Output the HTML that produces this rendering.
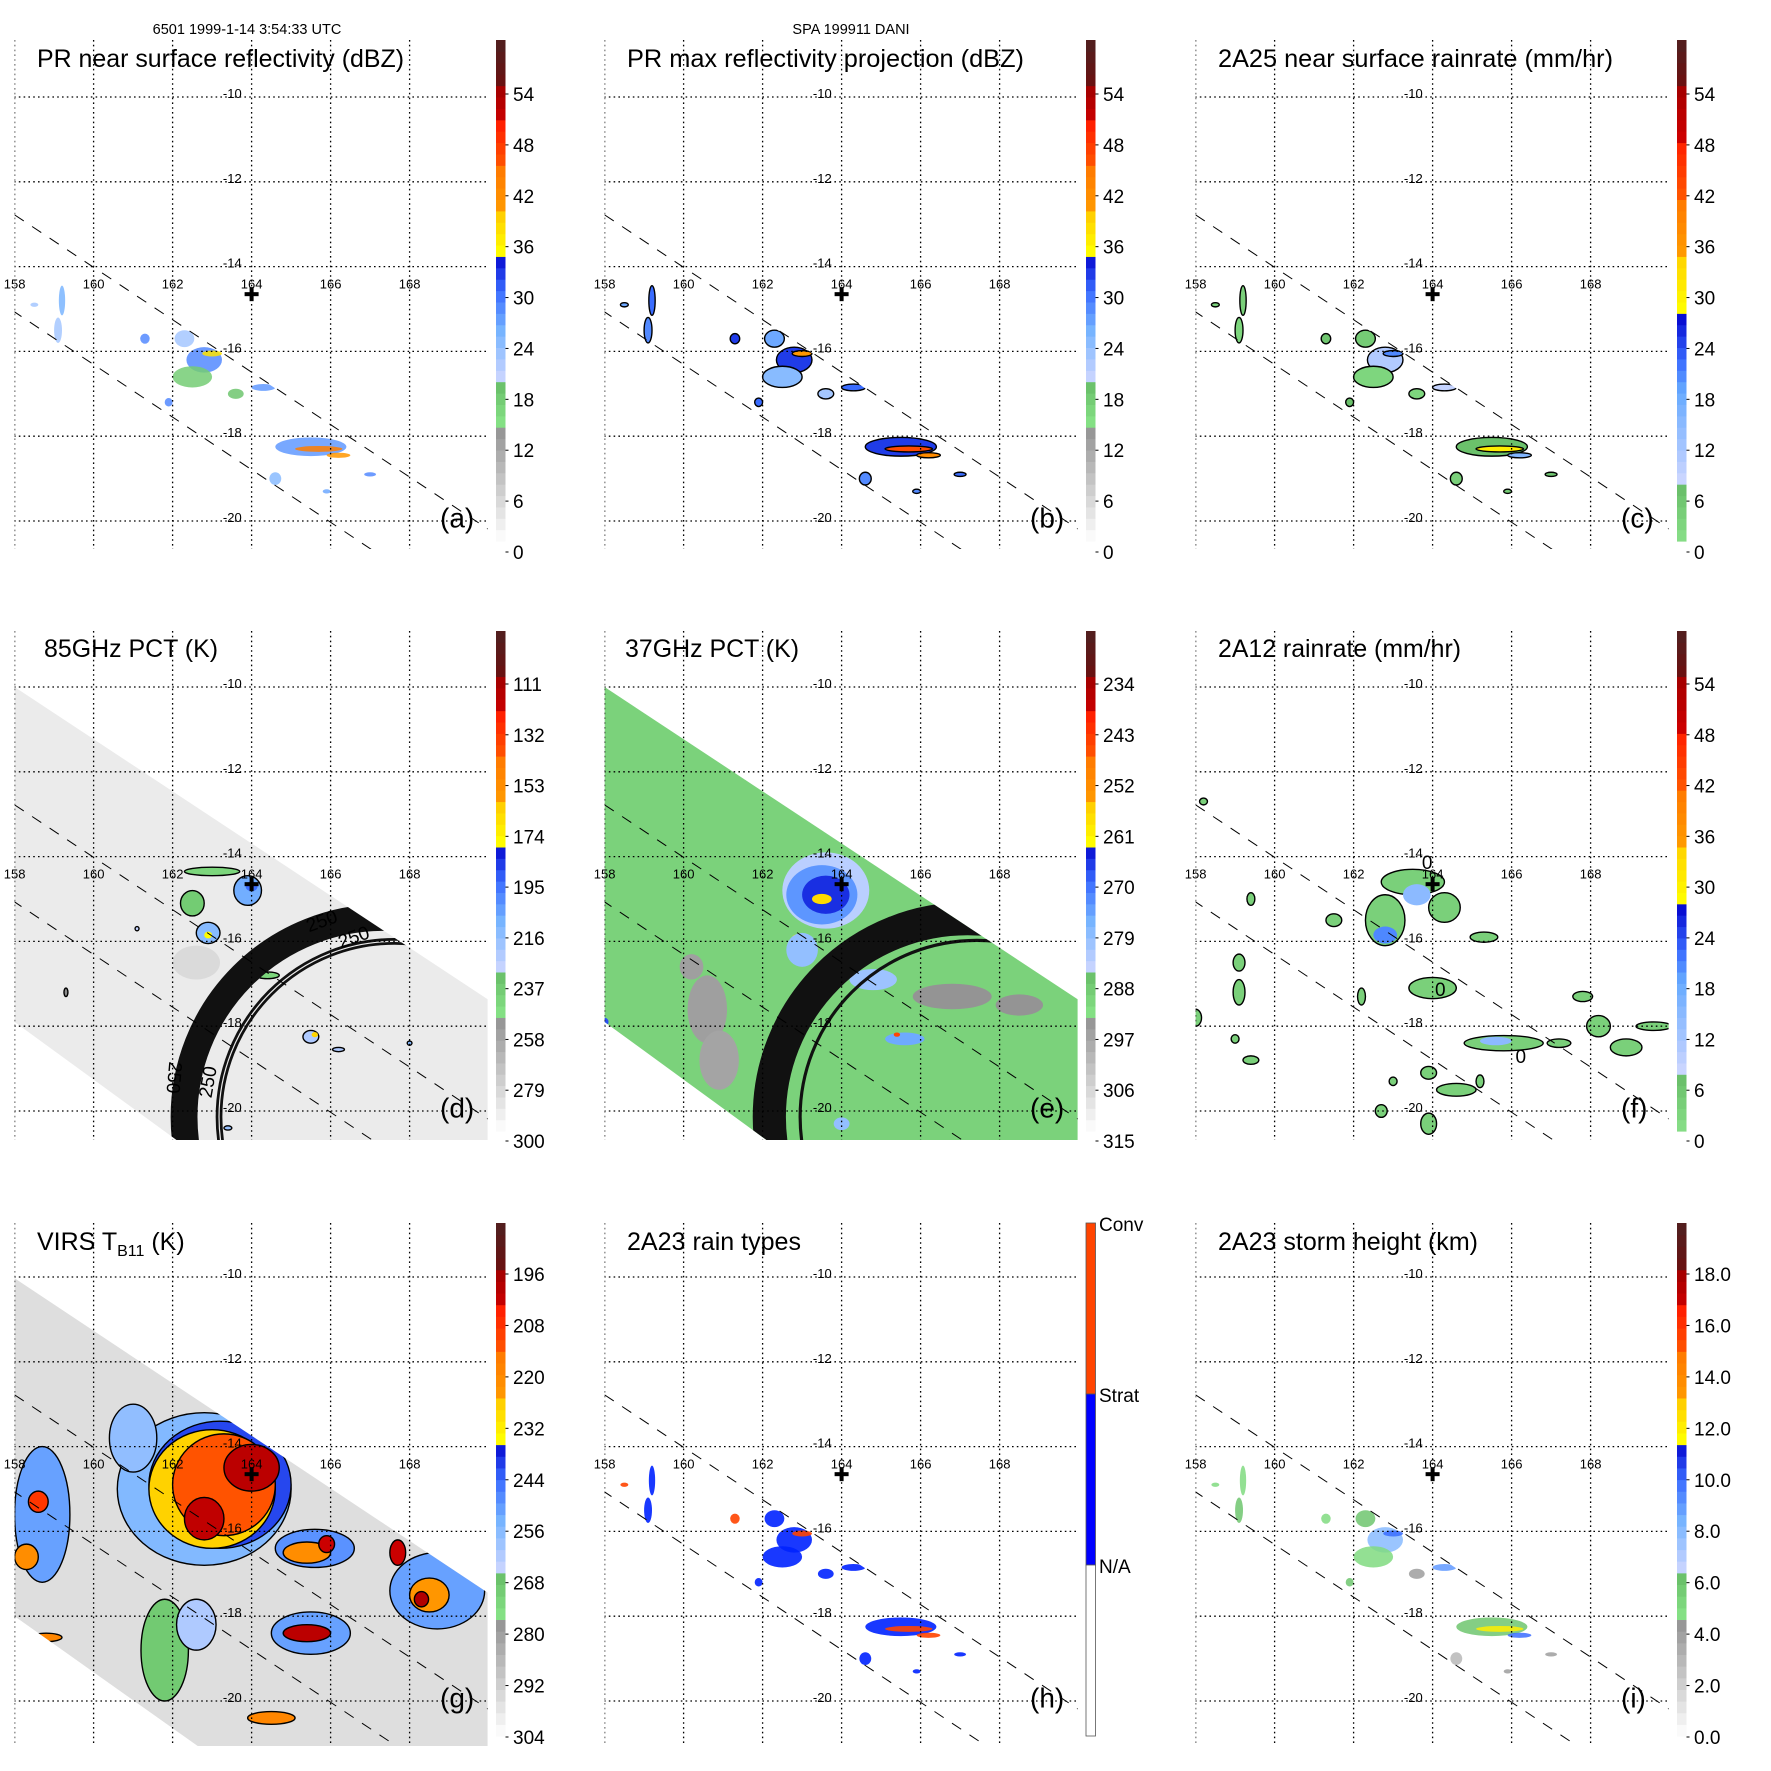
<!DOCTYPE html>
<html><head><meta charset="utf-8"><style>
html,body{margin:0;padding:0;background:#fff;}
svg{display:block;font-family:"Liberation Sans",sans-serif;}
</style></head><body>
<svg id="fig" width="1771" height="1771" viewBox="0 0 1771 1771"></svg>
<script>
const NS='http://www.w3.org/2000/svg';
const svg=document.getElementById('fig');
function mk(parent,tag,attrs){const e=document.createElementNS(NS,tag);for(const k in attrs)e.setAttribute(k,attrs[k]);parent.appendChild(e);return e;}

/* ---------- data ---------- */
const lonTicks=[158,160,162,164,166,168];
const latTicks=[-10,-12,-14,-16,-18,-20];
const centerLon=164, centerLat=-14.65;

/* PR (a,b,c,h,i) precipitation features */
const prLon=[159.2,159.1,162.3,162.8,163.0,162.5,164.3,165.5,165.7,166.2,161.3,163.6,161.9,164.6,165.9,167.0,158.5];
const prLat=[-14.8,-15.5,-15.7,-16.2,-16.05,-16.6,-16.85,-18.25,-18.3,-18.45,-15.7,-17.0,-17.2,-19.0,-19.3,-18.9,-14.9];
const prRx=[0.08,0.1,0.25,0.45,0.25,0.5,0.3,0.9,0.6,0.3,0.12,0.2,0.1,0.15,0.1,0.15,0.1];
const prRy=[0.35,0.3,0.2,0.3,0.07,0.25,0.08,0.22,0.07,0.06,0.12,0.12,0.1,0.15,0.05,0.05,0.05];
const aVal=[25,22,22,28,37,17,27,27,44,40,28,18,28,24,26,28,22];
const bVal=[30,28,26,32,40,24,30,32,46,42,32,22,30,28,28,30,26];
const cVal=[3,2,4,10,20,2,8,6,30,15,5,2,6,3,4,5,3];
const hVal=[1,1,1,1,2,1,1,1,2,2,2,1,1,1,1,1,2];
const iVal=[5,6,6,8,10,5,9,6,12,10,5,4,6,3,4,4,5];

/* 85 GHz PCT */
const dLon=[162.6,163.0,163.9,162.5,162.9,162.9,164.0,164.4,165.5,165.6,166.2,168.0,161.1,159.3,163.4];
const dLat=[-16.5,-14.35,-14.8,-15.1,-15.8,-15.85,-14.7,-16.8,-18.25,-18.2,-18.55,-18.4,-15.7,-17.2,-20.4];
const dRx=[0.6,0.7,0.35,0.3,0.3,0.1,0.15,0.3,0.2,0.08,0.15,0.06,0.05,0.05,0.1];
const dRy=[0.4,0.1,0.35,0.3,0.25,0.08,0.12,0.08,0.15,0.06,0.05,0.05,0.05,0.1,0.05];
const dVal=[284,245,210,240,215,178,195,245,225,165,225,215,230,250,220];
const dLine=[0,1,1,1,1,0,0,1,1,0,1,1,1,1,1];

/* 37 GHz PCT */
const eLon=[160.6,160.9,160.2,166.8,168.5,163.6,163.5,163.6,163.5,162.9,163.0,164.8,165.6,165.4,158.0,164.0];
const eLat=[-17.6,-18.8,-16.6,-17.3,-17.5,-14.8,-14.9,-14.9,-15.0,-15.9,-16.2,-16.9,-18.3,-18.2,-17.9,-20.3];
const eRx=[0.5,0.5,0.3,1.0,0.6,1.1,0.9,0.6,0.25,0.15,0.4,0.6,0.5,0.08,0.1,0.2];
const eRy=[0.8,0.7,0.3,0.3,0.25,0.9,0.7,0.45,0.12,0.07,0.4,0.25,0.15,0.05,0.1,0.15];
const eVal=[297,298,297,295,295,284,274,266,258,258,280,281,276,245,268,280];

/* 2A12 rain rate */
const fLon=[163.5,162.8,164.3,163.6,162.8,164.0,165.3,165.8,165.6,167.2,168.2,168.9,169.6,167.8,159.1,159.1,158.0,159.0,159.4,161.5,163.9,164.6,165.2,163.0,163.9,162.7,162.2,159.4,158.2];
const fLat=[-14.6,-15.5,-15.2,-14.9,-15.85,-17.1,-15.9,-18.4,-18.35,-18.4,-18.0,-18.5,-18.0,-17.3,-16.5,-17.2,-17.8,-18.3,-18.8,-15.5,-19.1,-19.5,-19.3,-19.3,-20.3,-20.0,-17.3,-15.0,-12.7];
const fRx=[0.8,0.5,0.4,0.35,0.3,0.6,0.35,1.0,0.4,0.3,0.3,0.4,0.45,0.25,0.15,0.15,0.15,0.1,0.2,0.2,0.2,0.5,0.1,0.1,0.2,0.15,0.1,0.1,0.1];
const fRy=[0.3,0.6,0.35,0.25,0.2,0.25,0.12,0.18,0.1,0.1,0.25,0.2,0.1,0.12,0.2,0.3,0.2,0.1,0.1,0.15,0.15,0.15,0.15,0.1,0.25,0.15,0.2,0.15,0.08];
const fVal=[3,3,3,14,20,3,3,3,14,3,3,3,3,3,3,3,3,3,3,3,3,3,3,3,3,3,3,3,3];
const fLine=[1,1,1,0,0,1,1,1,0,1,1,1,1,1,1,1,1,1,1,1,1,1,1,1,1,1,1,1,1];

/* VIRS TB11 */
const gLon=[162.8,161.0,161.8,162.6,165.6,168.7,165.5,158.7,163.2,163.0,163.3,164.0,162.8,165.4,165.9,168.5,168.3,167.7,165.4,158.6,158.3,164.5,158.8];
const gLat=[-15.0,-13.8,-18.8,-18.2,-16.4,-17.4,-18.4,-15.6,-14.9,-15.0,-14.9,-14.5,-15.7,-16.5,-16.3,-17.5,-17.6,-16.5,-18.4,-15.3,-16.6,-20.4,-18.5];
const gRx=[2.2,0.6,0.6,0.5,1.0,1.2,1.0,0.7,1.8,1.6,1.3,0.7,0.5,0.6,0.2,0.5,0.18,0.2,0.6,0.25,0.3,0.6,0.4];
const gRy=[1.8,0.8,1.2,0.6,0.45,0.9,0.5,1.6,1.5,1.4,1.2,0.55,0.5,0.25,0.2,0.4,0.18,0.3,0.2,0.25,0.3,0.15,0.1];
const gVal=[256,258,270,262,250,252,252,252,242,228,215,202,203,222,205,225,200,205,202,210,222,220,220];

/* swaths, scan-edge lines, rings */
const prSwath=[[157,-12.16],[172,-21.46],[172,-23.9],[157,-14.6]];
const tmiSwath=[[158,-10],[170,-17.38],[170,-21.5],[163.3,-21.5],[158,-17.9]];
const virsSwath=[[158,-10.03],[170,-17.46],[170,-21.5],[163.3,-21.5],[158,-18.0]];
const scanLines=[[[158,-12.78],[170,-20.2]],[[157.5,-14.76],[168,-21.27]]];
const dRings=[[167.34,-20.14,5.39,0.68],[167.62,-20.14,4.53,0.07],[167.62,-20.14,4.43,0.07]];
const eRings=[[167.19,-20.14,5.44,0.84],[167.42,-20.14,4.51,0.08]];
const dRingLabels=[[165.83,-15.66,-20],[166.64,-16.04,-20],[163.05,-19.34,-80],[161.88,-19.2,95]];
const fZeroLabels=[[163.73,-14.13],[164.06,-17.12],[166.1,-18.7]];

/* colorbar tick labels */
const ticksDBZ=['54','48','42','36','30','24','18','12','6','0'];
const ticks85=['111','132','153','174','195','216','237','258','279','300'];
const ticks37=['234','243','252','261','270','279','288','297','306','315'];
const ticksTB=['196','208','220','232','244','256','268','280','292','304'];
const ticksHT=['18.0','16.0','14.0','12.0','10.0','8.0','6.0','4.0','2.0','0.0'];

/* ---------- palettes ---------- */
const P1=[[0,'#ffffff'],[0.238,'#8c8c8c'],[0.238,'#84e084'],[0.322,'#66bb66'],[0.322,'#ccd6ff'],[0.42,'#77b4ff'],[0.5,'#3a6cff'],[0.575,'#0000cc'],[0.575,'#ffff00'],[0.66,'#ffc800'],[0.66,'#ff9a00'],[0.743,'#ff7a00'],[0.743,'#ff5a00'],[0.83,'#ff2000'],[0.83,'#d00000'],[0.91,'#a00000'],[0.91,'#6a1010'],[1,'#502020']];
const P2=[[0,'#88e088'],[0.119,'#66bb66'],[0.119,'#ccd6ff'],[0.3,'#66aaff'],[0.36,'#3a6cff'],[0.456,'#0000cc'],[0.456,'#ffff00'],[0.575,'#ffd000'],[0.575,'#ff9a00'],[0.678,'#ff7a00'],[0.678,'#ff5a00'],[0.797,'#ff2000'],[0.797,'#d00000'],[0.916,'#a00000'],[0.916,'#6a1010'],[1,'#502020']];
function hx(c){return [parseInt(c.substr(1,2),16),parseInt(c.substr(3,2),16),parseInt(c.substr(5,2),16)];}
function pal(P,t){t=Math.max(0,Math.min(1,t));
  for(let i=0;i<P.length-1;i++){const a=P[i],b=P[i+1];
    if(b[0]>a[0]&&t>=a[0]&&t<=b[0]){const f=(t-a[0])/(b[0]-a[0]);const A=hx(a[1]),B=hx(b[1]);
      return 'rgb('+A.map((v,k)=>Math.round(v+(B[k]-v)*f)).join(',')+')';}}
  return P[P.length-1][1];}

/* ---------- layout ---------- */
const rows=[{lat10:97,pp:42.4,top:40,bot:549,cbTop:40,cbBot:541,lab0:94,lab1:552},
            {lat10:87,pp:42.4,top:31,bot:540,cbTop:31,cbBot:531,lab0:84,lab1:541},
            {lat10:77,pp:42.4,top:23,bot:546,cbTop:23,cbBot:536,lab0:74,lab1:537}];
const colX=[0,590,1181], rowY=[0,600,1200];

const panels=[
 {id:'a',col:0,row:0,title:'PR near surface reflectivity (dBZ)',tl:367,tx:37,P:P1,v0:0,v1:60,lon:prLon,lat:prLat,rx:prRx,ry:prRy,val:aVal,sw:prSwath,op:0.85,ticks:ticksDBZ},
 {id:'b',col:1,row:0,title:'PR max reflectivity projection (dBZ)',tl:397,tx:37,P:P1,v0:0,v1:60,lon:prLon,lat:prLat,rx:prRx,ry:prRy,val:bVal,sw:prSwath,line:1,ticks:ticksDBZ},
 {id:'c',col:2,row:0,title:'2A25 near surface rainrate (mm/hr)',tl:395,tx:37,P:P2,v0:0,v1:60,lon:prLon,lat:prLat,rx:prRx,ry:prRy,val:cVal,sw:prSwath,line:1,ticks:ticksDBZ},
 {id:'d',col:0,row:1,title:'85GHz PCT (K)',tl:174,tx:44,P:P1,v0:300,v1:89,lon:dLon,lat:dLat,rx:dRx,ry:dRy,val:dVal,lines:dLine,sw:tmiSwath,bg:'#ebebeb',rings:dRings,ticks:ticks85},
 {id:'e',col:1,row:1,title:'37GHz PCT (K)',tl:174,tx:35,P:P1,v0:315,v1:224.6,lon:eLon,lat:eLat,rx:eRx,ry:eRy,val:eVal,sw:tmiSwath,bg:'#7bd27b',rings:eRings,ticks:ticks37},
 {id:'f',col:2,row:1,title:'2A12 rainrate (mm/hr)',tl:243,tx:37,P:P2,v0:0,v1:60,lon:fLon,lat:fLat,rx:fRx,ry:fRy,val:fVal,lines:fLine,ticks:ticksDBZ},
 {id:'g',col:0,row:2,title:'VIRS',tl:146,tx:37,P:P1,v0:304,v1:186,lon:gLon,lat:gLat,rx:gRx,ry:gRy,val:gVal,sw:virsSwath,bg:'#dedede',line:1,ticks:ticksTB},
 {id:'h',col:1,row:2,title:'2A23 rain types',tl:174,tx:37,cat:true,lon:prLon,lat:prLat,rx:prRx,ry:prRy,val:hVal,sw:prSwath,op:0.9},
 {id:'i',col:2,row:2,title:'2A23 storm height (km)',tl:260,tx:37,P:P1,v0:0,v1:20,lon:prLon,lat:prLat,rx:prRx,ry:prRy,val:iVal,sw:prSwath,op:0.85,ticks:ticksHT}
];

const defs=mk(svg,'defs',{});

/* header */
let ht=mk(svg,'text',{x:247,y:34,'font-size':14.5,'text-anchor':'middle',fill:'#000'});


ht.textContent='6501 1999-1-14 3:54:33 UTC';
let ht2=mk(svg,'text',{x:851,y:34,'font-size':14.5,'text-anchor':'middle',fill:'#000'});


ht2.textContent='SPA 199911 DANI';

panels.forEach(p=>{
  const r=rows[p.row], ox=colX[p.col], oy=rowY[p.row];
  const X=lon=>ox+14.6+(lon-158)*39.5;
  const Y=lat=>oy+r.lat10+(-10-lat)*r.pp;
  const T=v=>(v-p.v0)/(p.v1-p.v0);
  const color=v=>p.cat?(v===2?'#ff4400':'#0022ff'):pal(p.P,T(v));

  const g=mk(svg,'g',{});
  
  

  const cp=mk(defs,'clipPath',{id:'clip-'+p.id});
  mk(cp,'rect',{x:ox+14.6,y:oy+r.top,width:473,height:r.bot-r.top});
  const plot=mk(g,'g',{'clip-path':'url(#clip-'+p.id+')'});
  
  

  let inner=plot;
  if(p.sw){
    const pts=p.sw.map(q=>X(q[0])+','+Y(q[1])).join(' ');
    const sc=mk(defs,'clipPath',{id:'sw-'+p.id});
    mk(sc,'polygon',{points:pts});
    if(p.bg){
      const bg=mk(plot,'polygon',{points:pts,fill:p.bg});
      
      
    }
    inner=mk(plot,'g',{'clip-path':'url(#sw-'+p.id+')'});
    
    
  }
  for(let i=0;i<p.lon.length;i++){
    const el=mk(inner,'ellipse',{cx:X(p.lon[i]),cy:Y(p.lat[i]),rx:p.rx[i]*39.5,ry:p.ry[i]*r.pp,fill:color(p.val[i])});
    if(p.op)el.setAttribute('fill-opacity',p.op);
    const ol=p.lines?p.lines[i]:p.line;
    if(ol){el.setAttribute('stroke','#000');el.setAttribute('stroke-width','1.4');}
    
    
  }
  if(p.rings){
    p.rings.forEach(q=>{
      const c=mk(inner,'circle',{cx:X(q[0]),cy:Y(q[1]),r:(q[2]-q[3]/2)*39.5,fill:'none',stroke:'#111','stroke-width':Math.max(2,q[3]*39.5)});
      
      
    });
  }
  if(p.id==='d'){
    dRingLabels.forEach(q=>{
      const t=mk(inner,'text',{x:X(q[0]),y:Y(q[1]),'font-size':19,'text-anchor':'middle',fill:'#000',transform:'rotate('+q[2]+' '+X(q[0])+' '+Y(q[1])+')'});
      
      
      t.textContent='250';
    });
  }
  /* grid */
  lonTicks.forEach(lon=>{
    const l=mk(plot,'line',{x1:X(lon),x2:X(lon),y1:oy+r.top,y2:oy+r.bot,stroke:'#000','stroke-width':1.3,'stroke-dasharray':'1.6 3.2'});
    
    
  });
  latTicks.forEach(lat=>{
    const l=mk(plot,'line',{x1:ox+14,x2:ox+487,y1:Y(lat),y2:Y(lat),stroke:'#000','stroke-width':1.3,'stroke-dasharray':'1.6 3.2'});
    
    
  });
  scanLines.forEach(s=>{
    const l=mk(plot,'line',{x1:X(s[0][0]),y1:Y(s[0][1]),x2:X(s[1][0]),y2:Y(s[1][1]),stroke:'#000','stroke-width':1,'stroke-dasharray':'11 10'});
    
    
  });
  /* storm center marker */
  const cx=X(centerLon), cy=Y(centerLat);
  const m1=mk(g,'rect',{x:cx-7,y:cy-2,width:14,height:4,fill:'#000'});
  
  
  const m2=mk(g,'rect',{x:cx-2,y:cy-7,width:4,height:14,fill:'#000'});
  
  
  if(p.id==='f'){
    fZeroLabels.forEach(q=>{
      const t=mk(g,'text',{x:X(q[0]),y:Y(q[1])+7,'font-size':19,fill:'#000'});
      
      
      t.textContent='0';
    });
  }
  /* tick labels */
  lonTicks.forEach(lon=>{
    const t=mk(g,'text',{x:X(lon),y:Y(-14.4)+5,'font-size':13,'text-anchor':'middle',fill:'#000'});
    
    
    t.textContent=String(lon);
  });
  latTicks.forEach(lat=>{
    const t=mk(g,'text',{x:X(163.75),y:Y(lat)+1,'font-size':13,'text-anchor':'end',fill:'#000'});
    
    
    t.textContent=String(lat);
  });
  /* title */
  const titleY=[67,57,50][p.row];
  const tt=mk(g,'text',{x:ox+p.tx,y:oy+titleY,'font-size':25,fill:'#000',textLength:p.tl,lengthAdjust:'spacingAndGlyphs'});
  
  
  if(p.id==='g'){
    tt.removeAttribute('textLength');
    tt.textContent='VIRS T';
    const sub=mk(tt,'tspan',{'font-size':16,dy:6});
    sub.textContent='B11';
    const rest=mk(tt,'tspan',{dy:-6});
    rest.textContent=' (K)';
  } else tt.textContent=p.title;
  /* panel letter */
  const pl=mk(g,'text',{x:ox+440,y:Y(-20.15),'font-size':28,fill:'#000'});
  
  
  pl.textContent='('+p.id+')';
  /* colorbar */
  const cb=mk(g,'g',{});
  
  
  const bx=ox+496, bw=9.5;
  if(p.cat){
    const segs=[['#ff4400',r.cbTop,194],['#0000ff',194,365],['#ffffff',365,536]];
    segs.forEach(s=>{
      const rc=mk(cb,'rect',{x:bx,y:oy+s[1],width:bw,height:s[2]-s[1],fill:s[0],stroke:'#555','stroke-width':0.8});
      
      
    });
    [['Conv',31],['Strat',202],['N/A',373]].forEach(q=>{
      const t=mk(cb,'text',{x:bx+13,y:oy+q[1],'font-size':19,fill:'#000'});
      
      
      t.textContent=q[0];
    });
  } else {
    const n=44, h=(r.cbBot-r.cbTop)/n;
    for(let i=0;i<n;i++){
      const rc=mk(cb,'rect',{x:bx,y:oy+r.cbBot-(i+1)*h,width:bw,height:h+0.6,fill:pal(p.P,(i+0.5)/n)});
      
      
    }
    const nt=p.ticks.length;
    p.ticks.forEach((lab,i)=>{
      const y=oy+r.lab0+i*(r.lab1-r.lab0)/(nt-1);
      const tk=mk(cb,'line',{x1:bx+bw,x2:bx+bw+3,y1:y,y2:y,stroke:'#000','stroke-width':1});
      
      
      const t=mk(cb,'text',{x:bx+17,y:y+7,'font-size':19,fill:'#000'});
      
      
      t.textContent=lab;
    });
  }
});
</script>
</body></html>
